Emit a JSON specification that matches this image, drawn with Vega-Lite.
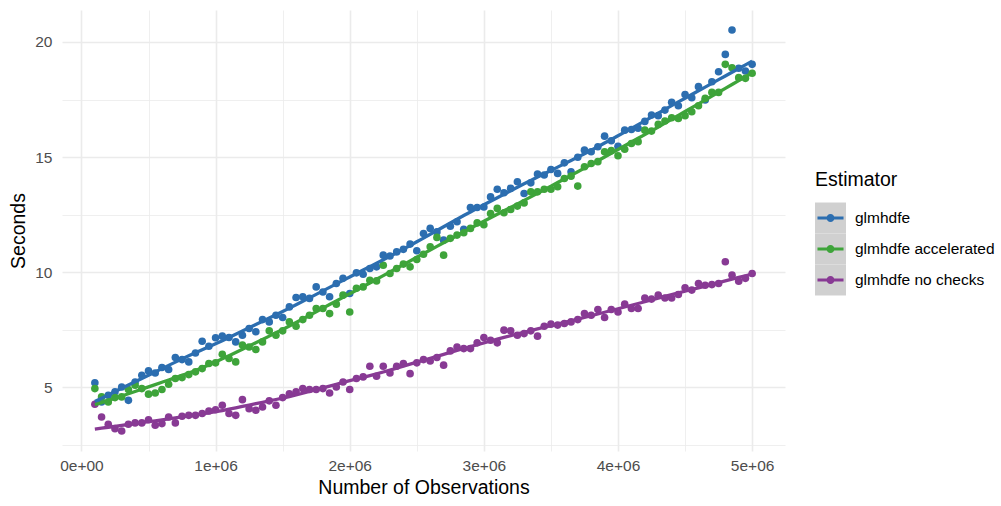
{
  "$schema": "https://vega.github.io/schema/vega-lite/v6.json",
  "width": 723,
  "height": 441,
  "autosize": {"type": "none"},
  "padding": {"left": 62, "top": 10, "right": 216, "bottom": 55},
  "background": "white",
  "config": {
    "view": {"stroke": null},
    "font": "Liberation Sans",
    "axis": {
      "ticks": false,
      "domain": false,
      "grid": true,
      "gridColor": "#ebebeb",
      "labelColor": "#4d4d4d",
      "labelFontSize": 15.5,
      "labelFont": "Liberation Sans",
      "titleFont": "Liberation Sans",
      "titleFontSize": 19.5,
      "titleFontWeight": "normal",
      "titleColor": "#000000",
      "labelOverlap": false
    },
    "legend": {"padding": 0}
  },
  "data": {
    "values": [
      {"obs":100000,"Estimator":"glmhdfe","sec":5.19},{"obs":150000,"Estimator":"glmhdfe","sec":4.36},{"obs":200000,"Estimator":"glmhdfe","sec":4.65},{"obs":250000,"Estimator":"glmhdfe","sec":4.8},{"obs":300000,"Estimator":"glmhdfe","sec":5.01},{"obs":350000,"Estimator":"glmhdfe","sec":4.43},{"obs":400000,"Estimator":"glmhdfe","sec":5.23},{"obs":450000,"Estimator":"glmhdfe","sec":5.52},{"obs":500000,"Estimator":"glmhdfe","sec":5.71},{"obs":550000,"Estimator":"glmhdfe","sec":5.62},
      {"obs":600000,"Estimator":"glmhdfe","sec":5.86},{"obs":650000,"Estimator":"glmhdfe","sec":5.77},{"obs":700000,"Estimator":"glmhdfe","sec":6.29},{"obs":750000,"Estimator":"glmhdfe","sec":6.2},{"obs":800000,"Estimator":"glmhdfe","sec":6.1},{"obs":850000,"Estimator":"glmhdfe","sec":6.49},{"obs":900000,"Estimator":"glmhdfe","sec":7.0},{"obs":950000,"Estimator":"glmhdfe","sec":6.78},{"obs":1000000,"Estimator":"glmhdfe","sec":7.15},{"obs":1050000,"Estimator":"glmhdfe","sec":7.22},
      {"obs":1100000,"Estimator":"glmhdfe","sec":7.16},{"obs":1150000,"Estimator":"glmhdfe","sec":6.97},{"obs":1200000,"Estimator":"glmhdfe","sec":7.26},{"obs":1250000,"Estimator":"glmhdfe","sec":7.55},{"obs":1300000,"Estimator":"glmhdfe","sec":7.41},{"obs":1350000,"Estimator":"glmhdfe","sec":7.94},{"obs":1400000,"Estimator":"glmhdfe","sec":7.84},{"obs":1450000,"Estimator":"glmhdfe","sec":8.13},{"obs":1500000,"Estimator":"glmhdfe","sec":8.03},{"obs":1550000,"Estimator":"glmhdfe","sec":8.49},
      {"obs":1600000,"Estimator":"glmhdfe","sec":8.9},{"obs":1650000,"Estimator":"glmhdfe","sec":8.93},{"obs":1700000,"Estimator":"glmhdfe","sec":8.86},{"obs":1750000,"Estimator":"glmhdfe","sec":9.36},{"obs":1800000,"Estimator":"glmhdfe","sec":9.14},{"obs":1850000,"Estimator":"glmhdfe","sec":8.93},{"obs":1900000,"Estimator":"glmhdfe","sec":9.51},{"obs":1950000,"Estimator":"glmhdfe","sec":9.73},{"obs":2000000,"Estimator":"glmhdfe","sec":9.07},{"obs":2050000,"Estimator":"glmhdfe","sec":9.97},
      {"obs":2100000,"Estimator":"glmhdfe","sec":9.91},{"obs":2150000,"Estimator":"glmhdfe","sec":10.16},{"obs":2200000,"Estimator":"glmhdfe","sec":10.23},{"obs":2250000,"Estimator":"glmhdfe","sec":10.74},{"obs":2300000,"Estimator":"glmhdfe","sec":10.7},{"obs":2350000,"Estimator":"glmhdfe","sec":10.88},{"obs":2400000,"Estimator":"glmhdfe","sec":10.99},{"obs":2450000,"Estimator":"glmhdfe","sec":11.22},{"obs":2500000,"Estimator":"glmhdfe","sec":10.93},{"obs":2550000,"Estimator":"glmhdfe","sec":11.68},
      {"obs":2600000,"Estimator":"glmhdfe","sec":11.9},{"obs":2650000,"Estimator":"glmhdfe","sec":11.75},{"obs":2700000,"Estimator":"glmhdfe","sec":11.39},{"obs":2750000,"Estimator":"glmhdfe","sec":12.0},{"obs":2800000,"Estimator":"glmhdfe","sec":12.19},{"obs":2850000,"Estimator":"glmhdfe","sec":11.86},{"obs":2900000,"Estimator":"glmhdfe","sec":12.81},{"obs":2950000,"Estimator":"glmhdfe","sec":12.81},{"obs":3000000,"Estimator":"glmhdfe","sec":12.83},{"obs":3050000,"Estimator":"glmhdfe","sec":13.27},
      {"obs":3100000,"Estimator":"glmhdfe","sec":13.6},{"obs":3150000,"Estimator":"glmhdfe","sec":13.45},{"obs":3200000,"Estimator":"glmhdfe","sec":13.64},{"obs":3250000,"Estimator":"glmhdfe","sec":13.93},{"obs":3300000,"Estimator":"glmhdfe","sec":13.42},{"obs":3350000,"Estimator":"glmhdfe","sec":13.88},{"obs":3400000,"Estimator":"glmhdfe","sec":14.26},{"obs":3450000,"Estimator":"glmhdfe","sec":14.22},{"obs":3500000,"Estimator":"glmhdfe","sec":14.46},{"obs":3550000,"Estimator":"glmhdfe","sec":14.29},
      {"obs":3600000,"Estimator":"glmhdfe","sec":14.75},{"obs":3650000,"Estimator":"glmhdfe","sec":14.36},{"obs":3700000,"Estimator":"glmhdfe","sec":14.99},{"obs":3750000,"Estimator":"glmhdfe","sec":15.3},{"obs":3800000,"Estimator":"glmhdfe","sec":15.23},{"obs":3850000,"Estimator":"glmhdfe","sec":15.45},{"obs":3900000,"Estimator":"glmhdfe","sec":15.91},{"obs":3950000,"Estimator":"glmhdfe","sec":15.71},{"obs":4000000,"Estimator":"glmhdfe","sec":15.47},{"obs":4050000,"Estimator":"glmhdfe","sec":16.17},
      {"obs":4100000,"Estimator":"glmhdfe","sec":16.2},{"obs":4150000,"Estimator":"glmhdfe","sec":16.25},{"obs":4200000,"Estimator":"glmhdfe","sec":16.55},{"obs":4250000,"Estimator":"glmhdfe","sec":16.83},{"obs":4300000,"Estimator":"glmhdfe","sec":16.8},{"obs":4350000,"Estimator":"glmhdfe","sec":17.04},{"obs":4400000,"Estimator":"glmhdfe","sec":17.38},{"obs":4450000,"Estimator":"glmhdfe","sec":17.23},{"obs":4500000,"Estimator":"glmhdfe","sec":17.72},{"obs":4550000,"Estimator":"glmhdfe","sec":17.58},
      {"obs":4600000,"Estimator":"glmhdfe","sec":18.06},{"obs":4650000,"Estimator":"glmhdfe","sec":17.48},{"obs":4700000,"Estimator":"glmhdfe","sec":18.27},{"obs":4750000,"Estimator":"glmhdfe","sec":18.71},{"obs":4800000,"Estimator":"glmhdfe","sec":19.46},{"obs":4850000,"Estimator":"glmhdfe","sec":20.52},{"obs":4900000,"Estimator":"glmhdfe","sec":18.86},{"obs":4950000,"Estimator":"glmhdfe","sec":18.74},{"obs":5000000,"Estimator":"glmhdfe","sec":19.03},

      {"obs":100000,"Estimator":"glmhdfe accelerated","sec":4.94},{"obs":150000,"Estimator":"glmhdfe accelerated","sec":4.58},{"obs":200000,"Estimator":"glmhdfe accelerated","sec":4.36},{"obs":250000,"Estimator":"glmhdfe accelerated","sec":4.55},{"obs":300000,"Estimator":"glmhdfe accelerated","sec":4.58},{"obs":350000,"Estimator":"glmhdfe accelerated","sec":4.9},{"obs":400000,"Estimator":"glmhdfe accelerated","sec":5.09},{"obs":450000,"Estimator":"glmhdfe accelerated","sec":4.94},{"obs":500000,"Estimator":"glmhdfe accelerated","sec":4.7},{"obs":550000,"Estimator":"glmhdfe accelerated","sec":4.75},
      {"obs":600000,"Estimator":"glmhdfe accelerated","sec":4.9},{"obs":650000,"Estimator":"glmhdfe accelerated","sec":5.13},{"obs":700000,"Estimator":"glmhdfe accelerated","sec":5.38},{"obs":750000,"Estimator":"glmhdfe accelerated","sec":5.42},{"obs":800000,"Estimator":"glmhdfe accelerated","sec":5.55},{"obs":850000,"Estimator":"glmhdfe accelerated","sec":5.67},{"obs":900000,"Estimator":"glmhdfe accelerated","sec":5.81},{"obs":950000,"Estimator":"glmhdfe accelerated","sec":6.03},{"obs":1000000,"Estimator":"glmhdfe accelerated","sec":6.06},{"obs":1050000,"Estimator":"glmhdfe accelerated","sec":6.43},
      {"obs":1100000,"Estimator":"glmhdfe accelerated","sec":6.25},{"obs":1150000,"Estimator":"glmhdfe accelerated","sec":6.1},{"obs":1200000,"Estimator":"glmhdfe accelerated","sec":6.83},{"obs":1250000,"Estimator":"glmhdfe accelerated","sec":6.75},{"obs":1300000,"Estimator":"glmhdfe accelerated","sec":6.64},{"obs":1350000,"Estimator":"glmhdfe accelerated","sec":6.97},{"obs":1400000,"Estimator":"glmhdfe accelerated","sec":7.45},{"obs":1450000,"Estimator":"glmhdfe accelerated","sec":7.26},{"obs":1500000,"Estimator":"glmhdfe accelerated","sec":7.45},{"obs":1550000,"Estimator":"glmhdfe accelerated","sec":7.84},
      {"obs":1600000,"Estimator":"glmhdfe accelerated","sec":7.65},{"obs":1650000,"Estimator":"glmhdfe accelerated","sec":7.94},{"obs":1700000,"Estimator":"glmhdfe accelerated","sec":8.13},{"obs":1750000,"Estimator":"glmhdfe accelerated","sec":8.42},{"obs":1800000,"Estimator":"glmhdfe accelerated","sec":8.42},{"obs":1850000,"Estimator":"glmhdfe accelerated","sec":8.2},{"obs":1900000,"Estimator":"glmhdfe accelerated","sec":8.61},{"obs":1950000,"Estimator":"glmhdfe accelerated","sec":9.0},{"obs":2000000,"Estimator":"glmhdfe accelerated","sec":8.27},{"obs":2050000,"Estimator":"glmhdfe accelerated","sec":9.3},
      {"obs":2100000,"Estimator":"glmhdfe accelerated","sec":9.36},{"obs":2150000,"Estimator":"glmhdfe accelerated","sec":9.65},{"obs":2200000,"Estimator":"glmhdfe accelerated","sec":9.62},{"obs":2250000,"Estimator":"glmhdfe accelerated","sec":10.3},{"obs":2300000,"Estimator":"glmhdfe accelerated","sec":9.94},{"obs":2350000,"Estimator":"glmhdfe accelerated","sec":10.16},{"obs":2400000,"Estimator":"glmhdfe accelerated","sec":10.35},{"obs":2450000,"Estimator":"glmhdfe accelerated","sec":10.23},{"obs":2500000,"Estimator":"glmhdfe accelerated","sec":10.55},{"obs":2550000,"Estimator":"glmhdfe accelerated","sec":10.78},
      {"obs":2600000,"Estimator":"glmhdfe accelerated","sec":11.1},{"obs":2650000,"Estimator":"glmhdfe accelerated","sec":11.51},{"obs":2700000,"Estimator":"glmhdfe accelerated","sec":10.74},{"obs":2750000,"Estimator":"glmhdfe accelerated","sec":11.47},{"obs":2800000,"Estimator":"glmhdfe accelerated","sec":11.61},{"obs":2850000,"Estimator":"glmhdfe accelerated","sec":11.71},{"obs":2900000,"Estimator":"glmhdfe accelerated","sec":11.9},{"obs":2950000,"Estimator":"glmhdfe accelerated","sec":12.14},{"obs":3000000,"Estimator":"glmhdfe accelerated","sec":12.06},{"obs":3050000,"Estimator":"glmhdfe accelerated","sec":12.55},
      {"obs":3100000,"Estimator":"glmhdfe accelerated","sec":12.77},{"obs":3150000,"Estimator":"glmhdfe accelerated","sec":12.58},{"obs":3200000,"Estimator":"glmhdfe accelerated","sec":12.72},{"obs":3250000,"Estimator":"glmhdfe accelerated","sec":12.87},{"obs":3300000,"Estimator":"glmhdfe accelerated","sec":13.01},{"obs":3350000,"Estimator":"glmhdfe accelerated","sec":13.49},{"obs":3400000,"Estimator":"glmhdfe accelerated","sec":13.49},{"obs":3450000,"Estimator":"glmhdfe accelerated","sec":13.6},{"obs":3500000,"Estimator":"glmhdfe accelerated","sec":13.6},{"obs":3550000,"Estimator":"glmhdfe accelerated","sec":13.71},
      {"obs":3600000,"Estimator":"glmhdfe accelerated","sec":14.07},{"obs":3650000,"Estimator":"glmhdfe accelerated","sec":14.17},{"obs":3700000,"Estimator":"glmhdfe accelerated","sec":13.74},{"obs":3750000,"Estimator":"glmhdfe accelerated","sec":14.58},{"obs":3800000,"Estimator":"glmhdfe accelerated","sec":14.72},{"obs":3850000,"Estimator":"glmhdfe accelerated","sec":14.8},{"obs":3900000,"Estimator":"glmhdfe accelerated","sec":15.23},{"obs":3950000,"Estimator":"glmhdfe accelerated","sec":15.28},{"obs":4000000,"Estimator":"glmhdfe accelerated","sec":15.06},{"obs":4050000,"Estimator":"glmhdfe accelerated","sec":15.34},
      {"obs":4100000,"Estimator":"glmhdfe accelerated","sec":15.59},{"obs":4150000,"Estimator":"glmhdfe accelerated","sec":15.67},{"obs":4200000,"Estimator":"glmhdfe accelerated","sec":16.17},{"obs":4250000,"Estimator":"glmhdfe accelerated","sec":16.13},{"obs":4300000,"Estimator":"glmhdfe accelerated","sec":16.42},{"obs":4350000,"Estimator":"glmhdfe accelerated","sec":16.57},{"obs":4400000,"Estimator":"glmhdfe accelerated","sec":16.71},{"obs":4450000,"Estimator":"glmhdfe accelerated","sec":16.68},{"obs":4500000,"Estimator":"glmhdfe accelerated","sec":16.8},{"obs":4550000,"Estimator":"glmhdfe accelerated","sec":16.97},
      {"obs":4600000,"Estimator":"glmhdfe accelerated","sec":17.23},{"obs":4650000,"Estimator":"glmhdfe accelerated","sec":17.55},{"obs":4700000,"Estimator":"glmhdfe accelerated","sec":17.81},{"obs":4750000,"Estimator":"glmhdfe accelerated","sec":17.81},{"obs":4800000,"Estimator":"glmhdfe accelerated","sec":19.03},{"obs":4850000,"Estimator":"glmhdfe accelerated","sec":18.88},{"obs":4900000,"Estimator":"glmhdfe accelerated","sec":18.45},{"obs":4950000,"Estimator":"glmhdfe accelerated","sec":18.42},{"obs":5000000,"Estimator":"glmhdfe accelerated","sec":18.64},

      {"obs":100000,"Estimator":"glmhdfe no checks","sec":4.26},{"obs":150000,"Estimator":"glmhdfe no checks","sec":3.71},{"obs":200000,"Estimator":"glmhdfe no checks","sec":3.39},{"obs":250000,"Estimator":"glmhdfe no checks","sec":3.2},{"obs":300000,"Estimator":"glmhdfe no checks","sec":3.1},{"obs":350000,"Estimator":"glmhdfe no checks","sec":3.39},{"obs":400000,"Estimator":"glmhdfe no checks","sec":3.45},{"obs":450000,"Estimator":"glmhdfe no checks","sec":3.45},{"obs":500000,"Estimator":"glmhdfe no checks","sec":3.59},{"obs":550000,"Estimator":"glmhdfe no checks","sec":3.35},
      {"obs":600000,"Estimator":"glmhdfe no checks","sec":3.42},{"obs":650000,"Estimator":"glmhdfe no checks","sec":3.71},{"obs":700000,"Estimator":"glmhdfe no checks","sec":3.45},{"obs":750000,"Estimator":"glmhdfe no checks","sec":3.74},{"obs":800000,"Estimator":"glmhdfe no checks","sec":3.78},{"obs":850000,"Estimator":"glmhdfe no checks","sec":3.78},{"obs":900000,"Estimator":"glmhdfe no checks","sec":3.86},{"obs":950000,"Estimator":"glmhdfe no checks","sec":3.97},{"obs":1000000,"Estimator":"glmhdfe no checks","sec":4.02},{"obs":1050000,"Estimator":"glmhdfe no checks","sec":4.22},
      {"obs":1100000,"Estimator":"glmhdfe no checks","sec":3.86},{"obs":1150000,"Estimator":"glmhdfe no checks","sec":3.78},{"obs":1200000,"Estimator":"glmhdfe no checks","sec":4.46},{"obs":1250000,"Estimator":"glmhdfe no checks","sec":4.07},{"obs":1300000,"Estimator":"glmhdfe no checks","sec":4.0},{"obs":1350000,"Estimator":"glmhdfe no checks","sec":4.14},{"obs":1400000,"Estimator":"glmhdfe no checks","sec":4.41},{"obs":1450000,"Estimator":"glmhdfe no checks","sec":4.22},{"obs":1500000,"Estimator":"glmhdfe no checks","sec":4.55},{"obs":1550000,"Estimator":"glmhdfe no checks","sec":4.72},
      {"obs":1600000,"Estimator":"glmhdfe no checks","sec":4.8},{"obs":1650000,"Estimator":"glmhdfe no checks","sec":4.94},{"obs":1700000,"Estimator":"glmhdfe no checks","sec":4.9},{"obs":1750000,"Estimator":"glmhdfe no checks","sec":4.9},{"obs":1800000,"Estimator":"glmhdfe no checks","sec":4.94},{"obs":1850000,"Estimator":"glmhdfe no checks","sec":4.75},{"obs":1900000,"Estimator":"glmhdfe no checks","sec":5.01},{"obs":1950000,"Estimator":"glmhdfe no checks","sec":5.23},{"obs":2000000,"Estimator":"glmhdfe no checks","sec":4.9},{"obs":2050000,"Estimator":"glmhdfe no checks","sec":5.38},
      {"obs":2100000,"Estimator":"glmhdfe no checks","sec":5.45},{"obs":2150000,"Estimator":"glmhdfe no checks","sec":5.91},{"obs":2200000,"Estimator":"glmhdfe no checks","sec":5.48},{"obs":2250000,"Estimator":"glmhdfe no checks","sec":5.91},{"obs":2300000,"Estimator":"glmhdfe no checks","sec":5.62},{"obs":2350000,"Estimator":"glmhdfe no checks","sec":5.91},{"obs":2400000,"Estimator":"glmhdfe no checks","sec":6.03},{"obs":2450000,"Estimator":"glmhdfe no checks","sec":5.59},{"obs":2500000,"Estimator":"glmhdfe no checks","sec":6.06},{"obs":2550000,"Estimator":"glmhdfe no checks","sec":6.2},
      {"obs":2600000,"Estimator":"glmhdfe no checks","sec":6.14},{"obs":2650000,"Estimator":"glmhdfe no checks","sec":6.29},{"obs":2700000,"Estimator":"glmhdfe no checks","sec":5.96},{"obs":2750000,"Estimator":"glmhdfe no checks","sec":6.58},{"obs":2800000,"Estimator":"glmhdfe no checks","sec":6.75},{"obs":2850000,"Estimator":"glmhdfe no checks","sec":6.68},{"obs":2900000,"Estimator":"glmhdfe no checks","sec":6.68},{"obs":2950000,"Estimator":"glmhdfe no checks","sec":6.93},{"obs":3000000,"Estimator":"glmhdfe no checks","sec":7.16},{"obs":3050000,"Estimator":"glmhdfe no checks","sec":7.04},
      {"obs":3100000,"Estimator":"glmhdfe no checks","sec":6.93},{"obs":3150000,"Estimator":"glmhdfe no checks","sec":7.48},{"obs":3200000,"Estimator":"glmhdfe no checks","sec":7.45},{"obs":3250000,"Estimator":"glmhdfe no checks","sec":7.26},{"obs":3300000,"Estimator":"glmhdfe no checks","sec":7.33},{"obs":3350000,"Estimator":"glmhdfe no checks","sec":7.45},{"obs":3400000,"Estimator":"glmhdfe no checks","sec":7.22},{"obs":3450000,"Estimator":"glmhdfe no checks","sec":7.65},{"obs":3500000,"Estimator":"glmhdfe no checks","sec":7.74},{"obs":3550000,"Estimator":"glmhdfe no checks","sec":7.7},
      {"obs":3600000,"Estimator":"glmhdfe no checks","sec":7.77},{"obs":3650000,"Estimator":"glmhdfe no checks","sec":7.84},{"obs":3700000,"Estimator":"glmhdfe no checks","sec":7.94},{"obs":3750000,"Estimator":"glmhdfe no checks","sec":8.2},{"obs":3800000,"Estimator":"glmhdfe no checks","sec":8.13},{"obs":3850000,"Estimator":"glmhdfe no checks","sec":8.38},{"obs":3900000,"Estimator":"glmhdfe no checks","sec":8.03},{"obs":3950000,"Estimator":"glmhdfe no checks","sec":8.38},{"obs":4000000,"Estimator":"glmhdfe no checks","sec":8.27},{"obs":4050000,"Estimator":"glmhdfe no checks","sec":8.61},
      {"obs":4100000,"Estimator":"glmhdfe no checks","sec":8.42},{"obs":4150000,"Estimator":"glmhdfe no checks","sec":8.42},{"obs":4200000,"Estimator":"glmhdfe no checks","sec":8.88},{"obs":4250000,"Estimator":"glmhdfe no checks","sec":8.83},{"obs":4300000,"Estimator":"glmhdfe no checks","sec":9.0},{"obs":4350000,"Estimator":"glmhdfe no checks","sec":8.88},{"obs":4400000,"Estimator":"glmhdfe no checks","sec":8.88},{"obs":4450000,"Estimator":"glmhdfe no checks","sec":9.03},{"obs":4500000,"Estimator":"glmhdfe no checks","sec":9.32},{"obs":4550000,"Estimator":"glmhdfe no checks","sec":9.22},
      {"obs":4600000,"Estimator":"glmhdfe no checks","sec":9.51},{"obs":4650000,"Estimator":"glmhdfe no checks","sec":9.43},{"obs":4700000,"Estimator":"glmhdfe no checks","sec":9.46},{"obs":4750000,"Estimator":"glmhdfe no checks","sec":9.51},{"obs":4800000,"Estimator":"glmhdfe no checks","sec":10.45},{"obs":4850000,"Estimator":"glmhdfe no checks","sec":9.87},{"obs":4900000,"Estimator":"glmhdfe no checks","sec":9.61},{"obs":4950000,"Estimator":"glmhdfe no checks","sec":9.73},{"obs":5000000,"Estimator":"glmhdfe no checks","sec":9.94}
    ]
  },
  "encoding": {
    "x": {
      "field": "obs",
      "type": "quantitative",
      "title": "Number of Observations",
      "scale": {"domain": [-145000, 5245000], "nice": false, "zero": false},
      "axis": {
        "values": [0, 500000, 1000000, 1500000, 2000000, 2500000, 3000000, 3500000, 4000000, 4500000, 5000000],
        "labelExpr": "datum.value % 1000000 === 0 ? (datum.value === 0 ? '0e+00' : (datum.value / 1000000) + 'e+06') : ''",
        "gridWidth": {"condition": {"test": "datum.value % 1000000 === 0", "value": 1.6}, "value": 0.8},
        "labelPadding": 7,
        "titlePadding": 5
      }
    },
    "y": {
      "field": "sec",
      "type": "quantitative",
      "title": "Seconds",
      "scale": {"domain": [2.23, 21.39], "nice": false, "zero": false},
      "axis": {
        "values": [2.5, 5, 7.5, 10, 12.5, 15, 17.5, 20],
        "labelExpr": "datum.value % 5 === 0 ? format(datum.value, 'd') : ''",
        "gridWidth": {"condition": {"test": "datum.value % 5 === 0", "value": 1.6}, "value": 0.8},
        "labelPadding": 10,
        "titlePadding": 6
      }
    }
  },
  "layer": [
    {
      "mark": {"type": "point", "filled": true, "opacity": 0},
      "encoding": {
        "fill": {
          "field": "Estimator",
          "type": "nominal",
          "scale": {"domain": ["glmhdfe", "glmhdfe accelerated", "glmhdfe no checks"], "range": ["#d0d0d0", "#d0d0d0", "#d0d0d0"]},
          "legend": {
            "orient": "none",
            "legendX": 753,
            "legendY": 161,
            "title": "Estimator",
            "titleFontSize": 19.5,
            "titleFontWeight": "normal",
            "titleOpacity": 0,
            "titlePadding": 12,
            "labelFontSize": 15.5,
            "labelOpacity": 0,
            "labelOffset": 9,
            "symbolType": "square",
            "symbolSize": 961,
            "symbolStrokeWidth": 0,
            "symbolOpacity": 1,
            "rowPadding": 0
          }
        }
      }
    },
    {
      "mark": {"type": "circle", "size": 58, "opacity": 1},
      "encoding": {
        "color": {
          "field": "Estimator",
          "type": "nominal",
          "scale": {"range": ["#2C6EB0", "#3EA43A", "#883A94"]},
          "legend": {
            "orient": "none",
            "legendX": 753,
            "legendY": 161,
            "title": "Estimator",
            "titleFontSize": 19.5,
            "titleFontWeight": "normal",
            "titleColor": "#000000",
            "titlePadding": 12,
            "labelFontSize": 15.5,
            "labelColor": "#000000",
            "labelOffset": 9,
            "symbolType": "M0,-1M0,1M-0.84,-0.1L0.84,-0.1L0.84,0.1L-0.84,0.1Z M0.26,0A0.26,0.26,0,1,1,-0.26,0A0.26,0.26,0,1,1,0.26,0Z",
            "symbolSize": 961,
            "symbolStrokeWidth": 0,
            "symbolOpacity": 1,
            "rowPadding": 0
          }
        }
      }
    },
    {
      "transform": [{"loess": "sec", "on": "obs", "groupby": ["Estimator"], "bandwidth": 0.3}],
      "mark": {"type": "line", "strokeWidth": 3.3},
      "encoding": {
        "color": {
          "field": "Estimator",
          "type": "nominal",
          "legend": {
            "orient": "none",
            "legendX": 753,
            "legendY": 161,
            "title": "Estimator",
            "titleFontSize": 19.5,
            "titleFontWeight": "normal",
            "titleColor": "#000000",
            "titlePadding": 12,
            "labelFontSize": 15.5,
            "labelColor": "#000000",
            "labelOffset": 9,
            "symbolType": "M0,-1M0,1M-0.84,-0.1L0.84,-0.1L0.84,0.1L-0.84,0.1Z M0.26,0A0.26,0.26,0,1,1,-0.26,0A0.26,0.26,0,1,1,0.26,0Z",
            "symbolSize": 961,
            "symbolStrokeWidth": 0,
            "symbolOpacity": 1,
            "rowPadding": 0
          }
        }
      }
    }
  ]
}
